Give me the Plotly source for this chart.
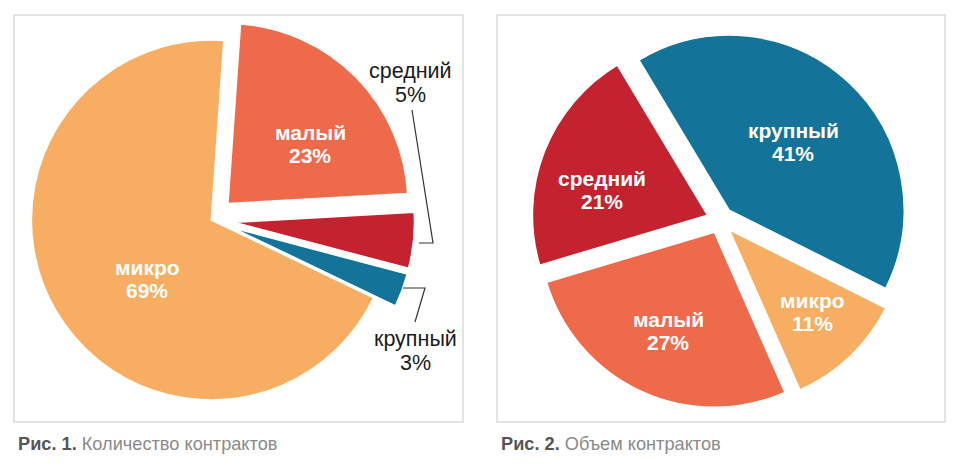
import plotly.graph_objects as go

# page body has an 8px margin, so the figure starts at (8, 8) in the window
OFF = 8
W, H = 952, 459

# ---- data ----
left_labels = ["малый", "средний", "крупный", "микро"]
left_values = [23, 5, 3, 69]
left_colors = ["#EF6A4B", "#C5222F", "#137399", "#F7AE62"]
left_pull = [0.13, 0.13, 0.13, 0]

right_labels = ["крупный", "микро", "малый", "средний"]
right_values = [41, 11, 27, 21]
right_colors = ["#137399", "#F7AE62", "#EF6A4B", "#C5222F"]
right_pull = [0.077, 0.077, 0.077, 0.077]

captions = [("Рис. 1.", "Количество контрактов"), ("Рис. 2.", "Объем контрактов")]


def X(x):
    return min(1.0, max(0.0, (x - OFF) / W))


def Y(y):
    return min(1.0, max(0.0, 1 - (y - OFF) / H))


fig = go.Figure()

fig.add_trace(go.Pie(
    labels=left_labels, values=left_values, sort=False, direction="clockwise",
    rotation=4, pull=left_pull, textinfo="none", hoverinfo="label+percent",
    marker=dict(colors=left_colors, line=dict(color="white", width=1.5)),
    domain=dict(x=[X(8), X(414.6)], y=[Y(423.4), Y(16.6)]),
    showlegend=False,
))

fig.add_trace(go.Pie(
    labels=right_labels, values=right_values, sort=False, direction="clockwise",
    rotation=-31, pull=right_pull, textinfo="none", hoverinfo="label+percent",
    marker=dict(colors=right_colors, line=dict(color="white", width=1.5)),
    domain=dict(x=[X(531.5), X(908.5)], y=[Y(408.5), Y(31.5)]),
    showlegend=False,
))

FONT = "Liberation Sans, Arial, Helvetica, sans-serif"
annotations = []


def lab(name, pct, x, y, color="white", bold=True, size=21, gap=23.5):
    for txt, yy in ((name, y - gap / 2), (pct, y + gap / 2)):
        t = f"<b>{txt}</b>" if bold else txt
        annotations.append(dict(
            text=t, x=X(x), y=Y(yy), xref="paper", yref="paper",
            xanchor="center", yanchor="middle", showarrow=False,
            font=dict(family=FONT, size=size, color=color),
        ))


# inside labels (left)
lab(left_labels[0], f"{left_values[0]}%", 310, 144)
lab(left_labels[3], f"{left_values[3]}%", 147, 279)
# outside labels (left)
lab(left_labels[1], f"{left_values[1]}%", 410, 83, color="#1a1a1a", bold=False, size=21.5)
lab(left_labels[2], f"{left_values[2]}%", 415, 351, color="#1a1a1a", bold=False, size=21.5)
# inside labels (right)
lab(right_labels[0], f"{right_values[0]}%", 793, 142)
lab(right_labels[3], f"{right_values[3]}%", 602, 190)
lab(right_labels[2], f"{right_values[2]}%", 668, 331)
lab(right_labels[1], f"{right_values[1]}%", 812, 312)

# captions
for (bold_part, rest), cx in zip(captions, [16, 499]):
    annotations.append(dict(
        text=f"<span style='color:#555555'><b>{bold_part}</b></span> <span style='color:#8a8a8a'>{rest}</span>",
        x=X(cx), y=Y(444), xref="paper", yref="paper",
        xanchor="left", yanchor="middle", showarrow=False,
        font=dict(family=FONT, size=18.2, color="#8a8a8a"),
    ))

shapes = [
    dict(type="rect", xref="paper", yref="paper", x0=X(14), x1=X(463), y0=Y(422), y1=Y(15),
         line=dict(color="#dadada", width=1.5), fillcolor="rgba(0,0,0,0)", layer="below"),
    dict(type="rect", xref="paper", yref="paper", x0=X(497), x1=X(945), y0=Y(422), y1=Y(15),
         line=dict(color="#dadada", width=1.5), fillcolor="rgba(0,0,0,0)", layer="below"),
]


def path(pts):
    d = "M " + " L ".join(f"{X(x)},{Y(y)}" for x, y in pts)
    return dict(type="path", xref="paper", yref="paper", path=d,
                line=dict(color="#333333", width=1.2))


shapes.append(path([(412, 110), (433, 243), (419, 243)]))
shapes.append(path([(403, 288), (425, 288), (415, 322)]))

fig.update_layout(
    width=W, height=H, margin=dict(l=0, r=0, t=0, b=0),
    paper_bgcolor="white", plot_bgcolor="white",
    annotations=annotations, shapes=shapes,
)

fig.write_html("out.html")
